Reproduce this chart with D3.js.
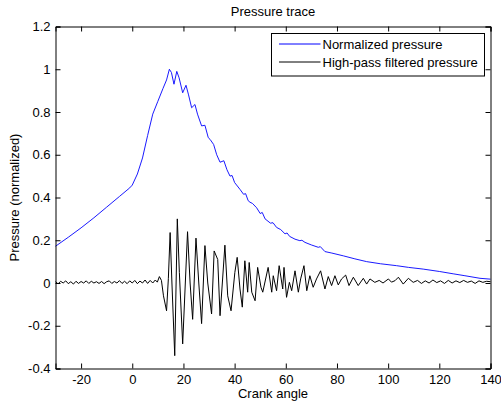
<!DOCTYPE html>
<html>
<head>
<meta charset="utf-8">
<script src="https://cdnjs.cloudflare.com/ajax/libs/d3/7.8.5/d3.min.js"></script>
<style>
  body { margin: 0; background: #fff; }
  svg text { font-family: "Liberation Sans", Arial, sans-serif; font-size: 13px; fill: #000; }
  .axis path, .axis line { stroke: #000; }
</style>
</head>
<body>
<svg id="chart" width="501" height="408"></svg>
<script>
// values
var xTicks = [-20, 0, 20, 40, 60, 80, 100, 120, 140];
var yTicks = [-0.4, -0.2, 0, 0.2, 0.4, 0.6, 0.8, 1, 1.2];
var yTickLabels = ["-0.4", "-0.2", "0", "0.2", "0.4", "0.6", "0.8", "1", "1.2"];
var seriesNames = ["Normalized pressure", "High-pass filtered pressure"];
var seriesColors = ["#0000ff", "#000000"];

var pressureAngle = [-30, -25, -20, -15, -10, -5, -1, 0, 2, 4, 6, 8, 10, 12, 13.4, 14.5, 15.3, 16.3, 17.4, 18.3,
  19.7, 21, 22, 23.2, 24.5, 25.5, 27.1, 28.4, 29.7, 30.4, 31.8, 33, 34.3, 35.8, 37, 38.2, 39, 40, 42.1, 43.5, 44.3, 45.3,
  46, 47, 48.6, 50, 50.8, 51.9, 54, 55, 56.4, 58, 59.7, 60.5, 61.5, 63.6, 65.5, 66.3, 67.5, 70, 72.7, 73.5, 75.3, 78, 82.5, 87, 91.6, 97,
  103.3, 108, 113.7, 120, 125.4, 130, 135.9, 140];
var pressureValue = [0.172, 0.214, 0.258, 0.305, 0.355, 0.405, 0.445, 0.458, 0.51, 0.585, 0.69, 0.79, 0.85, 0.91, 0.95, 1.0, 0.985, 0.93, 0.99, 0.96,
  0.89, 0.925, 0.88, 0.82, 0.835, 0.79, 0.735, 0.738, 0.68, 0.672, 0.648, 0.6, 0.565, 0.572, 0.53, 0.5, 0.503, 0.47, 0.438, 0.415, 0.418, 0.385,
  0.378, 0.372, 0.352, 0.325, 0.33, 0.3, 0.28, 0.282, 0.26, 0.25, 0.23, 0.234, 0.218, 0.205, 0.198, 0.2, 0.19, 0.178, 0.167, 0.17, 0.147, 0.14, 0.127, 0.113, 0.1, 0.09,
  0.081, 0.073, 0.065, 0.054, 0.043, 0.034, 0.022, 0.018];

var filteredAngle = [-30, -29, -28, -27, -26, -25, -24, -23, -22, -21, -20, -19, -18, -17, -16, -15, -14, -13, -12, -11,
  -10, -9, -8, -7, -6, -5, -4, -3, -2, -1, 0, 1, 2, 3, 4, 5, 6, 7, 8, 9, 9.8,
  10.6, 11.4, 12.2, 13.4, 14.1, 14.8, 15.5, 16.6, 17.6, 18.4, 19.7, 21.6, 22.6, 23.6, 24.9, 26, 27.1, 28.4, 29.5,
  31, 32, 33.4, 34.3, 35.2, 36.2, 37.3, 38.6, 40.1, 41, 42.1, 43, 44, 45.1, 45.7, 46.7, 48, 49, 50.3, 51,
  53.1, 54.5, 55.1, 56.4, 57.4, 58.8, 59.3, 60.3, 61.4, 62.3, 63.6, 64.9, 65.8, 67.1, 68.2, 69.4, 70.7, 72, 73.6, 75.3,
  76.6, 77.9, 79.2, 80.5, 81.8, 83.4, 84.7, 86.4, 88.3, 90.3, 91.6, 92.9, 94.8, 96.5, 98, 100.1, 101.3, 102.7, 104, 105.9,
  107.9, 109.8, 111.5, 113, 114.5, 116, 117.5, 119, 120.5, 122, 123.5, 125, 126.5, 128, 129.5, 131, 132.5, 134, 135.5, 137,
  138.5, 140];
var filteredValue = [0.006, -0.004, 0.008, 0.0, 0.01, -0.003, 0.006, -0.005, 0.008, -0.002, 0.007, 0.0, 0.01, -0.002, 0.008, 0.0, 0.006, -0.002, 0.007, -0.003,
  0.006, 0.01, -0.002, 0.007, 0.0, 0.011, -0.002, 0.008, -0.003, 0.01, 0.0, 0.012, -0.003, 0.009, 0.0, 0.014, -0.002, 0.012, 0.0, 0.014, 0.004,
  0.03, 0.012, -0.06, -0.13, 0.02, 0.236, 0.0, -0.34, 0.30, 0.05, -0.285, 0.24, 0.0, -0.17, 0.21, 0.0, -0.19, 0.175, 0.0,
  -0.145, 0.15, 0.11, -0.153, 0.0, 0.177, -0.06, -0.13, 0.05, 0.12, -0.028, -0.113, 0.104, -0.043, 0.096, -0.043, -0.083, 0.073, -0.02, -0.043,
  0.073, -0.043, 0.034, -0.036, 0.081, -0.028, 0.073, -0.067, 0.003, -0.036, 0.057, -0.043, 0.019, 0.081, -0.036, 0.034, -0.02, 0.019, 0.057, -0.028,
  0.03, -0.012, 0.034, -0.009, 0.019, 0.037, -0.012, 0.027, -0.012, 0.022, -0.005, 0.019, 0.003, 0.012, 0.0, 0.019, 0.004, 0.011, 0.027, -0.005,
  0.022, 0.003, 0.012, -0.002, 0.01, 0.0, 0.014, 0.002, 0.01, -0.002, 0.012, 0.0, 0.01, 0.002, 0.012, 0.003, 0.009, -0.002, 0.01, 0.003,
  0.008, 0.006];

var svg = d3.select('#chart');
var margin = {left: 55.5, right: 10.5, top: 26.5, bottom: 39.5};
var width = 501 - margin.left - margin.right;
var height = 408 - margin.top - margin.bottom;

var x = d3.scaleLinear().domain([-30, 140]).range([0, width]);
var y = d3.scaleLinear().domain([-0.4, 1.2]).range([height, 0]);

var g = svg.append('g')
    .attr('transform', 'translate(' + margin.left + ',' + margin.top + ')');

//Plot lines
var line = d3.line()
    .x(d => x(d[0]))
    .y(d => y(d[1]));

var pressure = pressureAngle.map((a, i) => [a, pressureValue[i]]);
var filtered = filteredAngle.map((a, i) => [a, filteredValue[i]]);

g.append('path')
    .datum(pressure)
    .attr('d', line)
    .attr('fill', 'none')
    .attr('stroke', seriesColors[0])
    .attr('stroke-width', 0.9);

g.append('path')
    .datum(filtered)
    .attr('d', line)
    .attr('fill', 'none')
    .attr('stroke', seriesColors[1])
    .attr('stroke-width', 1);

//Axes, ticks pointing inward like matlab
g.append('g')
    .classed('axis', true)
    .attr('transform', 'translate(0,' + height + ')')
    .call(d3.axisBottom(x).tickValues(xTicks).tickSize(-5).tickPadding(6).tickFormat(d => d < 0 ? '-' + Math.abs(d) : d))
    .call(a => a.selectAll('text').attr('dy', '0.75em'));

g.append('g')
    .classed('axis', true)
    .call(d3.axisTop(x).tickValues(xTicks).tickSize(-5).tickFormat(''));

g.append('g')
    .classed('axis', true)
    .call(d3.axisLeft(y).tickValues(yTicks).tickSize(-5).tickPadding(5).tickFormat((d, i) => yTickLabels[i]));

g.append('g')
    .classed('axis', true)
    .attr('transform', 'translate(' + width + ',0)')
    .call(d3.axisRight(y).tickValues(yTicks).tickSize(-5).tickFormat(''));

svg.selectAll('.axis text')
    .style('font-family', '"Liberation Sans", Arial, sans-serif')
    .style('font-size', '13px');

//Titles
svg.append('text')
    .attr('x', margin.left + width / 2)
    .attr('y', 16)
    .attr('text-anchor', 'middle')
    .text('Pressure trace');

svg.append('text')
    .attr('x', margin.left + width / 2)
    .attr('y', 398)
    .attr('text-anchor', 'middle')
    .text('Crank angle');

svg.append('text')
    .attr('transform', 'translate(19,' + (margin.top + height / 2) + ') rotate(-90)')
    .attr('text-anchor', 'middle')
    .text('Pressure (normalized)');

//Legend
var legend = svg.append('g')
    .attr('transform', 'translate(271.5,33.5)');

legend.append('rect')
    .attr('width', 213)
    .attr('height', 42.5)
    .attr('fill', '#fff')
    .attr('stroke', '#000');

var rows = legend.selectAll('.row')
    .data(seriesNames)
  .enter()
    .append('g')
    .attr('transform', (d, i) => 'translate(0,' + (10.5 + i * 18) + ')');

rows.append('line')
    .attr('x1', 7.5)
    .attr('x2', 49)
    .attr('stroke', (d, i) => seriesColors[i]);

rows.append('text')
    .attr('x', 51)
    .attr('y', 4.5)
    .text(d => d);
</script>
</body>
</html>
